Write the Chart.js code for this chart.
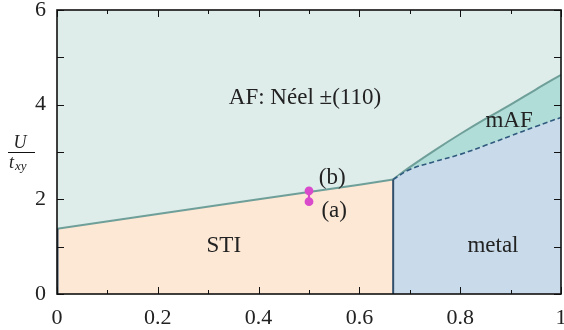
<!DOCTYPE html>
<html>
<head>
<meta charset="utf-8">
<script src="https://cdn.jsdelivr.net/npm/chart.js@4.4.1/dist/chart.umd.min.js"></script>
<style>
  html, body { margin: 0; padding: 0; background: #fff; }
  #wrap { width: 564px; height: 330px; }
</style>
</head>
<body>
<div id="wrap"><canvas id="c"></canvas></div>
<script>
// phase diagram U/t_xy vs x

const xTicks = [0, 0.2, 0.4, 0.6, 0.8, 1];
const xMinor = [0.1, 0.3, 0.5, 0.7, 0.9];
const yTicks = [0, 2, 4, 6];
const yMinor = [1, 3, 5];

// AF / STI boundary
const stiX = [0, 0.2, 0.4, 0.6, 0.667];
const stiU = [1.38, 1.69, 2.0, 2.31, 2.42];
// AF / mAF boundary
const afX = [0.667, 0.70, 0.75, 0.80, 0.85, 0.90, 0.95, 1.0];
const afU = [2.42, 2.68, 3.04, 3.38, 3.70, 4.00, 4.32, 4.63];
// mAF / metal boundary (dashed)
const mafX = [0.667, 0.70, 0.75, 0.80, 0.85, 0.90, 0.95, 1.0];
const mafU = [2.42, 2.63, 2.80, 2.95, 3.14, 3.34, 3.54, 3.73];
// STI / metal boundary and the x=0 edge
const metalEdgeX = 0.667;
const leftEdgeU = 1.38;
// the two marked points (a), (b)
const markX = [0.5, 0.5];
const markU = [1.95, 2.18];

const notes = [
  { text: 'AF: Néel ±(110)', x: 0.492, y: 4.14 },
  { text: 'mAF', x: 0.897, y: 3.66 },
  { text: 'STI', x: 0.331, y: 1.01 },
  { text: 'metal', x: 0.865, y: 1.01 },
  { text: '(b)', x: 0.546, y: 2.45 },
  { text: '(a)', x: 0.55, y: 1.75 }
];

const pts = (xs, ys) => xs.map((x, i) => ({ x, y: ys[i] }));
const SERIF = '"Liberation Serif", "DejaVu Serif", serif';

const frame = {
  id: 'frame',
  afterDatasetsDraw(chart) {
    const { ctx, chartArea: a, scales: { x, y } } = chart;
    ctx.save();
    ctx.strokeStyle = '#111';
    ctx.lineWidth = 1;
    const tick = (px, len, vertical) => {
      ctx.beginPath();
      if (vertical) {
        ctx.moveTo(px, a.bottom); ctx.lineTo(px, a.bottom - len);
        ctx.moveTo(px, a.top); ctx.lineTo(px, a.top + len);
      } else {
        ctx.moveTo(a.left, px); ctx.lineTo(a.left + len, px);
        ctx.moveTo(a.right, px); ctx.lineTo(a.right - len, px);
      }
      ctx.stroke();
    };
    xTicks.forEach(v => tick(Math.round(x.getPixelForValue(v)) + 0.5, 7, true));
    xMinor.forEach(v => tick(Math.round(x.getPixelForValue(v)) + 0.5, 4, true));
    yTicks.forEach(v => tick(Math.round(y.getPixelForValue(v)) + 0.5, 7, false));
    yMinor.forEach(v => tick(Math.round(y.getPixelForValue(v)) + 0.5, 7, false));
    ctx.lineWidth = 1.6;
    ctx.strokeRect(a.left, a.top, a.right - a.left, a.bottom - a.top);

    ctx.fillStyle = '#222';
    ctx.textAlign = 'center';
    ctx.textBaseline = 'middle';

    // x tick labels (drawn here so the last one may run off the canvas like the original)
    ctx.font = '22px ' + SERIF;
    xTicks.forEach(v => ctx.fillText(String(v), x.getPixelForValue(v), a.bottom + 24));

    // region labels
    ctx.font = '23px ' + SERIF;
    notes.forEach(n => ctx.fillText(n.text, x.getPixelForValue(n.x), y.getPixelForValue(n.y)));

    // y title: U / t_xy
    ctx.font = 'italic 18px ' + SERIF;
    ctx.fillText('U', 20, 143);
    ctx.beginPath();
    ctx.lineWidth = 1;
    ctx.moveTo(8, 152.5); ctx.lineTo(35, 152.5);
    ctx.stroke();
    ctx.textAlign = 'left';
    ctx.fillText('t', 9, 163);
    ctx.font = 'italic 13px ' + SERIF;
    ctx.fillText('xy', 15, 167);
    ctx.restore();
  }
};

new Chart(document.getElementById('c'), {
  type: 'line',
  data: {
    datasets: [
      { // markers
        data: pts(markX, markU), borderColor: '#d94bcb', backgroundColor: '#d94bcb',
        borderWidth: 2.2, pointRadius: 3.3, fill: false, order: 0
      },
      { // STI / metal vertical
        data: pts([metalEdgeX, metalEdgeX], [0, stiU[stiU.length - 1]]),
        borderColor: '#2f4f6b', borderWidth: 2, pointRadius: 0, fill: false, order: 1
      },
      { // left edge
        data: pts([0, 0], [0, leftEdgeU]),
        borderColor: '#2f4f6b', borderWidth: 3, pointRadius: 0, fill: false, order: 1
      },
      { // STI
        data: pts(stiX, stiU), borderColor: '#6f9f99', borderWidth: 2,
        backgroundColor: '#fde7d5', pointRadius: 0, fill: 'origin', order: 2
      },
      { // metal
        data: pts(mafX, mafU), borderColor: '#2f5a7e', borderWidth: 1.6, borderDash: [5, 3],
        backgroundColor: '#c9dbea', pointRadius: 0, fill: 'origin', tension: 0.4, order: 3
      },
      { // mAF
        data: pts(afX, afU), borderColor: '#6f9f99', borderWidth: 2,
        backgroundColor: '#b1ddd8', pointRadius: 0, fill: 'origin', tension: 0.4, order: 4
      },
      { // AF background
        data: pts([0, 1], [6, 6]), borderWidth: 0, borderColor: 'rgba(0,0,0,0)',
        backgroundColor: '#deecea', pointRadius: 0, fill: 'origin', order: 5
      }
    ]
  },
  options: {
    responsive: true,
    maintainAspectRatio: false,
    animation: false,
    layout: { autoPadding: false, padding: { top: 10, right: 3, left: 0, bottom: 0 } },
    plugins: { legend: { display: false }, tooltip: { enabled: false } },
    scales: {
      x: {
        type: 'linear', min: 0, max: 1,
        grid: { display: false, drawTicks: false },
        border: { display: false },
        afterBuildTicks: s => { s.ticks = xTicks.map(v => ({ value: v })); },
        afterFit: s => { s.height = 36; },
        ticks: { display: false }
      },
      y: {
        type: 'linear', min: 0, max: 6,
        grid: { display: false, drawTicks: false },
        border: { display: false },
        afterBuildTicks: s => { s.ticks = yTicks.map(v => ({ value: v })); },
        afterFit: s => { s.width = 57; s.paddingTop = 0; s.paddingBottom = 0; },
        ticks: { padding: 11, color: '#222', font: { family: SERIF, size: 22 } }
      }
    }
  },
  plugins: [frame]
});
</script>
</body>
</html>
